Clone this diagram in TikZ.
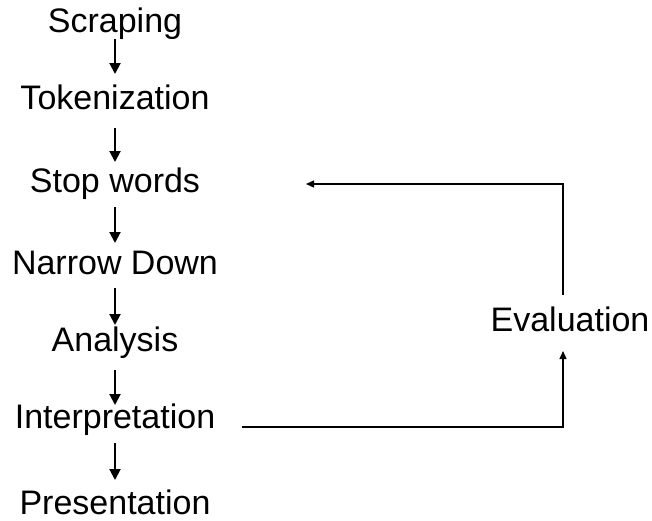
\documentclass[tikz,border=0pt]{standalone}
\usepackage{fontspec}
\setmainfont{Liberation Sans}
\usetikzlibrary{arrows.meta}
\begin{document}
\begin{tikzpicture}[x=1pt,y=-1pt,
  lbl/.style={anchor=base,inner sep=0pt,font=\fontsize{34}{40}\selectfont},
  arr/.style={line width=2pt,-{Triangle[length=11pt,width=11pt]}},
  fbarr/.style={line width=1.3pt,-{Triangle[length=8pt,width=7pt]}}]
\useasboundingbox (0,0) rectangle (652,520);
\node[lbl] (scr) at (115,32) {Scraping};
\node[lbl] (tok) at (115,109) {Tokenization};
\node[lbl] (stop) at (115,192) {Stop words};
\node[lbl] (nar) at (115,274) {Narrow Down};
\node[lbl] (ana) at (115,351) {Analysis};
\node[lbl] (int) at (115,428) {Interpretation};
\node[lbl] (pre) at (115,514) {Presentation};
\node[lbl] (eva) at (570,331) {Evaluation};
\draw[arr] ([yshift=-7pt]scr.base) -- ([yshift=35pt]tok.base);
\draw[arr] ([yshift=-19pt]tok.base) -- ([yshift=30pt]stop.base);
\draw[arr] ([yshift=-15pt]stop.base) -- ([yshift=31pt]nar.base);
\draw[arr] ([yshift=-14pt]nar.base) -- ([yshift=26pt]ana.base);
\draw[arr] ([yshift=-19pt]ana.base) -- ([yshift=23pt]int.base);
\draw[arr] ([yshift=-15pt]int.base) -- ([yshift=34pt]pre.base);
\coordinate (intout) at (242,427);
\coordinate (evain) at (563,351);
\coordinate (evaout) at (563,295);
\coordinate (stopin) at (306,184);
\draw[fbarr] (intout) -| (evain);
\draw[fbarr] (evaout) |- (stopin);
\end{tikzpicture}
\end{document}
